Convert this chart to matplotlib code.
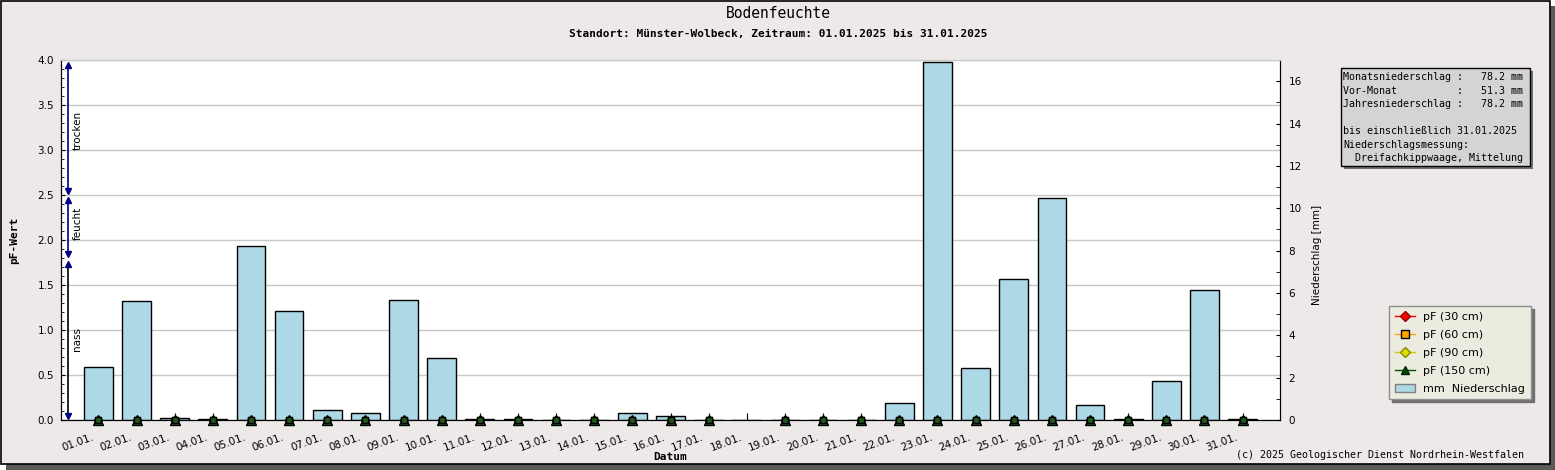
import matplotlib.pyplot as plt
from matplotlib.patches import Rectangle, Patch
from matplotlib.lines import Line2D
from matplotlib.transforms import ScaledTranslation
import numpy as np

# data
days = list(range(1, 32))
day_labels = ['%02d.01.' % d for d in days]
niederschlag = [2.5, 5.6, 0.1, 0.05, 8.2, 5.15, 0.45, 0.35, 5.65, 2.95,
                0.05, 0.05, 0.0, 0.0, 0.35, 0.2, 0.0, 0.0, 0.0, 0.0,
                0.0, 0.8, 16.9, 2.45, 6.65, 10.5, 0.7, 0.05, 1.85, 6.15, 0.05]
# pF values (no value on 18.01.)
pf = [0.0] * 31
pf[17] = np.nan
pf30 = pf
pf60 = pf
pf90 = pf
pf150 = pf
zonen = [('trocken', 2.54, 3.94, 3.22, 'navy'),
         ('feucht', 1.84, 2.44, 2.18, 'navy'),
         ('nass', 0.04, 1.73, 0.90, 'black')]
info_lines = ['Monatsniederschlag :   78.2 mm',
              'Vor-Monat          :   51.3 mm',
              'Jahresniederschlag :   78.2 mm',
              '',
              'bis einschließlich 31.01.2025',
              'Niederschlagsmessung:',
              '  Dreifachkippwaage, Mittelung']

W, H = 1555, 470
bg = '#ece9e8'
fig = plt.figure(figsize=(W / 100, H / 100), dpi=100, facecolor='white')

# frame with shadow
fig.patches.append(Rectangle((6 / W, 0), 1 - 6 / W, 464 / H, transform=fig.transFigure,
                             facecolor='#5a5a5a', edgecolor='none', zorder=-10))
fig.patches.append(Rectangle((0.5 / W, 6 / H), 1549 / W, 463.5 / H, transform=fig.transFigure,
                             facecolor=bg, edgecolor='black', lw=1.2, zorder=-9))

pos = [61 / W, 50 / H, (1280 - 61) / W, 360 / H]
ax = fig.add_axes(pos)
ax.set_facecolor('white')
ax.set_xlim(0.02, 31.98)
ax.set_ylim(0, 4)
ax.set_yticks(np.arange(0, 4.01, 0.5))
ax.set_yticks(np.arange(0, 4.01, 0.1), minor=True)
ax.set_yticklabels(['%.1f' % v for v in np.arange(0, 4.01, 0.5)])
ax.grid(axis='y', color='#c8c8c8', lw=1)
ax.set_axisbelow(True)
ax.set_xticks(days)
ax.set_xticklabels(day_labels, rotation=20, ha='right', rotation_mode='anchor')
ax.tick_params(axis='x', direction='in', length=5, labelsize=7.5, pad=9)
ax.tick_params(axis='y', which='major', direction='in', length=3, labelsize=7.5, pad=5)
ax.tick_params(axis='y', which='minor', direction='in', length=2.5)
ax.spines['top'].set_color('#c8c8c8')
shift = ScaledTranslation(-7 / 100, 0, fig.dpi_scale_trans)
for lbl in ax.get_xticklabels():
    lbl.set_transform(lbl.get_transform() + shift)

ax2 = ax.twinx()
ax2.set_ylim(0, 17)
ax2.set_yticks(range(0, 17, 2))
ax2.set_yticks(range(0, 18), minor=True)
ax2.tick_params(axis='y', which='major', direction='in', length=3, labelsize=7.5, pad=6)
ax2.tick_params(axis='y', which='minor', direction='in', length=3)
ax2.bar(days, niederschlag, width=0.75, color='#add8e6', edgecolor='black', lw=1)
ax2.spines['top'].set_color('#c8c8c8')

# overlay axes for pF markers and zone arrows
ax3 = fig.add_axes(pos, sharex=ax, sharey=ax)
ax3.patch.set_visible(False)
ax3.axis('off')
ax3.plot(days, pf30, 'D', color='red', mec='darkred', ms=4, clip_on=False)
ax3.plot(days, pf60, 's', color='orange', mec='black', ms=4, clip_on=False)
ax3.plot(days, pf90, 'D', color='#cccc00', mec='black', ms=4, clip_on=False)
ax3.plot(days, pf150, '^', color='#1e5a1e', mec='black', ms=7.5, clip_on=False)
ax3.plot(days, pf150, 's', color='#1e5a1e', mec='black', ms=4.5, clip_on=False)

for name, lo, hi, mid, col in zonen:
    ax3.plot([0.2, 0.2], [lo, hi], color=col, lw=1.2)
    ax3.plot(0.2, hi, '^', color='navy', ms=5)
    ax3.plot(0.2, lo, 'v', color='navy', ms=5)
    ax3.text(0.32, mid, name, rotation=90, ha='left', va='center', fontsize=7.5)

# texts
mono = 'DejaVu Sans Mono'
fig.text(778 / W, 1 - 14 / H, 'Bodenfeuchte', ha='center', va='center', family=mono, fontsize=10.5)
fig.text(778 / W, 1 - 34 / H, 'Standort: Münster-Wolbeck, Zeitraum: 01.01.2025 bis 31.01.2025',
         ha='center', va='center', family=mono, fontsize=8, weight='bold')
fig.text(14 / W, 1 - 240 / H, 'pF-Wert', rotation=90, ha='center', va='center',
         family=mono, fontsize=8, weight='bold')
fig.text(1317 / W, 1 - 255 / H, 'Niederschlag [mm]', rotation=90, ha='center', va='center', fontsize=7.5)
fig.text(670 / W, 1 - 457 / H, 'Datum', ha='center', va='center', family=mono, fontsize=8, weight='bold')
fig.text(1524 / W, 1 - 455 / H, '(c) 2025 Geologischer Dienst Nordrhein-Westfalen',
         ha='right', va='center', family=mono, fontsize=7.2)

# info box
fig.patches.append(Rectangle((1344 / W, 1 - 169 / H), 189 / W, 98 / H, transform=fig.transFigure,
                             facecolor='#707070', edgecolor='none'))
fig.patches.append(Rectangle((1341 / W, 1 - 166 / H), 189 / W, 98 / H, transform=fig.transFigure,
                             facecolor='#d4d4d4', edgecolor='black', lw=1))
for i, line in enumerate(info_lines):
    fig.text(1343 / W, 1 - (77 + i * 13.5) / H, line, ha='left', va='center', family=mono, fontsize=7.2)

# legend
handles = [Line2D([], [], color='red', marker='D', mfc='red', mec='darkred', ms=5, lw=1),
           Line2D([], [], color='orange', marker='s', mfc='orange', mec='black', ms=6, lw=1),
           Line2D([], [], color='#cccc00', marker='D', mfc='#dddd00', mec='#888800', ms=5, lw=1),
           Line2D([], [], color='#005000', marker='^', mfc='#005000', mec='#002000', ms=6, lw=1),
           Patch(facecolor='#add8e6', edgecolor='#808080')]
labels = ['pF (30 cm)', 'pF (60 cm)', 'pF (90 cm)', 'pF (150 cm)', 'mm  Niederschlag']
leg = fig.legend(handles, labels, loc='upper left', bbox_to_anchor=(1389 / W, 1 - 306 / H),
                 fontsize=8, frameon=True, fancybox=False, shadow={'color': '#707070', 'alpha': 1},
                 facecolor='#ecebe0', edgecolor='#909090', framealpha=1, handlelength=1.8,
                 handletextpad=0.8, labelspacing=0.72, borderpad=0.5, borderaxespad=0)
leg.get_frame().set_linewidth(1)

plt.savefig('out.png', dpi=100, facecolor=fig.get_facecolor())
